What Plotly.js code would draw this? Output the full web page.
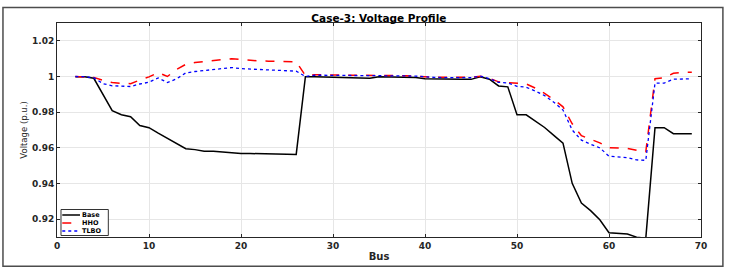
<!DOCTYPE html>
<html>
<head>
<meta charset="utf-8">
<script src="https://cdn.plot.ly/plotly-3.0.1.min.js"></script>
<style>html,body{margin:0;padding:0;background:#fff;}#chart{width:730px;height:271px;}</style>
</head>
<body>
<div id="chart"></div>
<script>
const bus = [2,3,4,5,6,7,8,9,10,11,12,13,14,15,16,17,18,19,20,21,22,23,24,25,26,27,28,29,30,31,32,33,34,35,36,37,38,39,40,41,42,43,44,45,46,47,48,49,50,51,52,53,54,55,56,57,58,59,60,61,62,63,64,65,66,67,68,69];

const baseV = [0.9999,0.9998,0.9990,0.9901,0.9808,0.9786,0.9774,0.9725,0.9713,0.9682,0.9653,0.9624,0.9595,0.9590,0.9581,0.9581,0.9576,0.9573,0.9568,0.9568,0.9568,0.9566,0.9564,0.9564,0.9563,
  0.9999,0.9999,0.9997,0.9997,0.9996,0.9994,0.9990,0.9990,0.9999,0.9998,0.9996,0.9995,0.9995,0.9988,0.9986,0.9985,0.9985,0.9984,0.9984,0.9998,
  0.9985,0.9947,0.9942,0.9785,0.9785,0.9747,0.9714,0.9670,0.9626,0.9401,0.9290,0.9248,0.9197,0.9124,0.9121,0.9117,0.9099,0.9093,0.9713,0.9713,0.9679,0.9679,0.9679];

const hhoV = [1.0000,0.9999,0.9995,0.9978,0.9966,0.9962,0.9960,0.9980,0.9998,1.0022,1.0000,1.0040,1.0068,1.0078,1.0083,1.0088,1.0095,1.0100,1.0095,1.0090,1.0087,1.0086,1.0085,1.0084,1.0083,
  1.0006,1.0010,1.0009,1.0009,1.0009,1.0008,1.0006,1.0005,1.0007,1.0007,1.0005,1.0004,1.0003,0.9998,0.9996,0.9995,0.9995,0.9995,0.9995,1.0002,
  0.9990,0.9970,0.9966,0.9963,0.9958,0.9935,0.9905,0.9870,0.9830,0.9735,0.9668,0.9648,0.9628,0.9600,0.9600,0.9597,0.9586,0.9578,0.9988,0.9992,1.0018,1.0024,1.0024];

const tlboV = [1.0000,0.9999,0.9993,0.9960,0.9948,0.9945,0.9944,0.9958,0.9968,0.9992,0.9966,0.9987,1.0020,1.0028,1.0034,1.0038,1.0045,1.0050,1.0044,1.0042,1.0038,1.0036,1.0035,1.0033,1.0030,
  1.0000,1.0007,1.0007,1.0007,1.0007,1.0006,1.0004,1.0003,1.0006,1.0006,1.0004,1.0003,1.0002,0.9997,0.9995,0.9994,0.9994,0.9994,0.9994,1.0002,
  0.9988,0.9967,0.9964,0.9945,0.9940,0.9918,0.9893,0.9856,0.9812,0.9700,0.9643,0.9620,0.9600,0.9553,0.9550,0.9545,0.9532,0.9530,0.9963,0.9963,0.9985,0.9987,0.9987];

const seriesNames = ['Base','HHO','TLBO'];
const xTicks = [0,10,20,30,40,50,60,70];
const yTicks = [0.92,0.94,0.96,0.98,1,1.02];
const yTickText = ['0.92','0.94','0.96','0.98','1','1.02'];

const FONT = 'DejaVu Sans, Verdana, sans-serif';
const styles = [
  {color: '#000000', width: 1.5, dash: 'solid'},
  {color: '#ff0000', width: 1.5, dash: 'dash'},
  {color: '#0000ff', width: 1.3, dash: 'dot'}
];
const values = [baseV, hhoV, tlboV];

const traces = values.map((v, i) => ({
  x: bus, y: v, name: seriesNames[i], mode: 'lines', showlegend: false, line: styles[i]
}));

const axisCommon = {
  showline: true, linecolor: '#262626', linewidth: 1, mirror: 'ticks',
  ticks: 'inside', ticklen: 3, tickcolor: '#262626',
  showgrid: true, gridcolor: '#e6e6e6', gridwidth: 1, zeroline: false,
  tickfont: {family: FONT, size: 9, color: '#262626', weight: 'bold'}
};

// Compact legend built from shapes + annotations (paper coordinates)
const legendBox = {x0: 0.0062, x1: 0.0797, y0: 0.007, y1: 0.1285};
const legendRows = [0.1028, 0.0654, 0.028];
const shapes = [
  {type: 'rect', xref: 'paper', yref: 'paper', x0: -0.0839, x1: 1.034, y0: -0.137, y1: 1.073,
   line: {color: '#4d4d4d', width: 1.5}, fillcolor: 'rgba(0,0,0,0)', layer: 'below'},
  {type: 'rect', xref: 'paper', yref: 'paper', x0: legendBox.x0, x1: legendBox.x1, y0: legendBox.y0, y1: legendBox.y1,
   line: {color: '#333333', width: 1}, fillcolor: '#ffffff', layer: 'above'}
];
const annotations = [];
seriesNames.forEach((n, i) => {
  shapes.push({type: 'line', xref: 'paper', yref: 'paper', x0: 0.0082, x1: 0.0357, y0: legendRows[i], y1: legendRows[i],
    line: {color: styles[i].color, width: styles[i].width, dash: styles[i].dash}, layer: 'above'});
  annotations.push({xref: 'paper', yref: 'paper', x: 0.038, y: legendRows[i], xanchor: 'left', yanchor: 'middle',
    text: '<b>' + n + '</b>', showarrow: false, borderpad: 0, font: {family: FONT, size: 6.5, color: '#000000'}});
});

const layout = {
  width: 730, height: 271,
  margin: {l: 57, r: 29, t: 23, b: 34, pad: 0},
  paper_bgcolor: '#ffffff', plot_bgcolor: '#ffffff',
  showlegend: false,
  title: {text: '<b>Case-3: Voltage Profile</b>', x: 0.519, xanchor: 'center', y: 0.934, yanchor: 'middle',
    font: {family: FONT, size: 10.5, color: '#000000'}},
  xaxis: Object.assign({}, axisCommon, {
    range: [0, 70], tickvals: xTicks, ticktext: xTicks.map(String),
    title: {text: '<b>Bus</b>', standoff: 3, font: {family: FONT, size: 10, color: '#262626'}}
  }),
  yaxis: Object.assign({}, axisCommon, {
    range: [0.91, 1.03], tickvals: yTicks, ticktext: yTickText,
    title: {text: 'Voltage (p.u.)', standoff: 3, font: {family: FONT, size: 8.5, color: '#262626'}}
  }),
  shapes: shapes,
  annotations: annotations
};

Plotly.newPlot('chart', traces, layout, {displayModeBar: false, staticPlot: true});
</script>
</body>
</html>
